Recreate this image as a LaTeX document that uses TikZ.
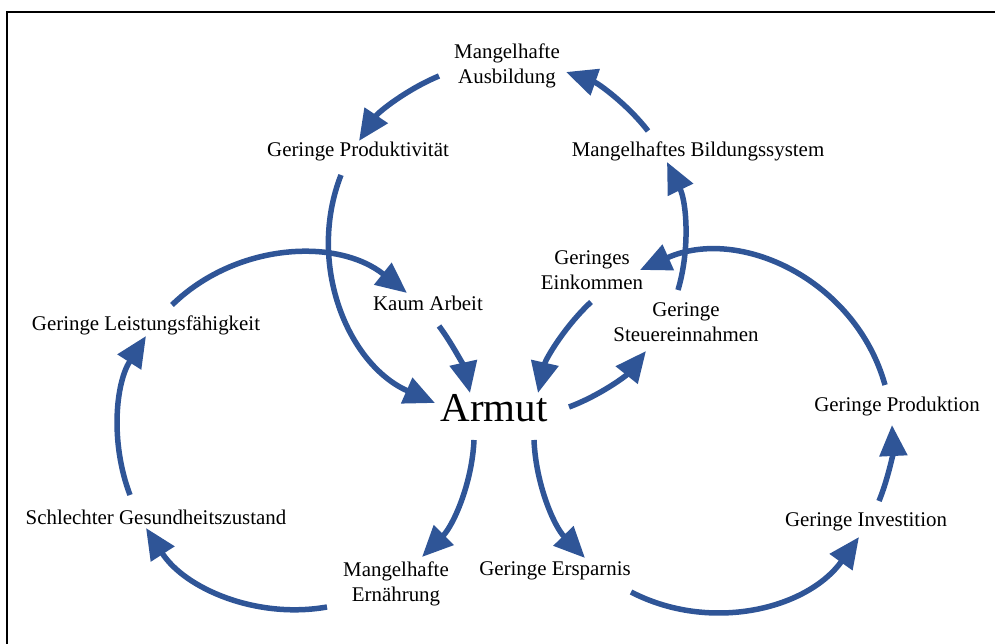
\documentclass[tikz,border=0pt]{standalone}
\usepackage{fontspec}
\setmainfont{Liberation Serif}
\usepackage{tikz}
\usetikzlibrary{arrows.meta, positioning, calc}
\definecolor{cycleblue}{RGB}{47, 85, 151}
\tikzstyle{factor} = [inner sep=0pt, outer sep=0pt, align=center, text=black, font=\fontsize{20.9}{25}\selectfont]
\tikzstyle{core} = [inner sep=0pt, outer sep=0pt, text=black, font=\fontsize{41}{46}\selectfont]
\tikzstyle{circlearrow} = [line width=5.5pt, -{Triangle[length=31pt, width=27pt]}, color=cycleblue]
\tikzstyle{frame} = [line width=2.2pt, color=black]

\begin{document}
\begin{tikzpicture}[x=1pt, y=1pt]
    \useasboundingbox (0,0) rectangle (995,644);
    % Frame
    \draw [frame] (7,-10) |- (1005,632);

    % Nodes
    \node (armut) [core] at (494,236) {Armut};
    \node (ausb) [factor] at (507,578) {Mangelhafte\\Ausbildung};
    \node (prod) [factor] at (358,492) {Geringe Produktivität};
    \node (bild) [factor] at (698,493) {Mangelhaftes Bildungssystem};
    \node (eink) [factor] at (592,374) {Geringes\\Einkommen};
    \node (arbeit) [factor] at (428,341) {Kaum Arbeit};
    \node (leist) [factor] at (146,319) {Geringe Leistungsfähigkeit};
    \node (steuer) [factor] at (686,322) {Geringe\\Steuereinnahmen};
    \node (produktion) [factor] at (897,237) {Geringe Produktion};
    \node (gesund) [factor] at (156,127) {Schlechter Gesundheitszustand};
    \node (invest) [factor] at (866,122) {Geringe Investition};
    \node (ernaehr) [factor] at (396,60) {Mangelhafte\\Ernährung};
    \node (spar) [factor] at (555,73) {Geringe Ersparnis};

    % Top cycle
    \draw [circlearrow] ([xshift=-68pt, yshift=-10pt]ausb.center) to[out=202.6, in=56.1, looseness=0.87] ([xshift=1pt, yshift=11pt]prod.center);
    \draw [circlearrow] ([xshift=-17pt, yshift=-23pt]prod.center) to[out=248.7, in=156.2, looseness=0.99] ([xshift=-59pt, yshift=5pt]armut.center);
    \draw [circlearrow] ([xshift=75pt, yshift=1pt]armut.center) to[out=20.3, in=231.3, looseness=0.86] ([xshift=-40pt, yshift=-29pt]steuer.center);
    \draw [circlearrow] ([xshift=-8pt, yshift=32pt]steuer.center) to[out=73.6, in=296, looseness=0.88] ([xshift=-31pt, yshift=-11pt]bild.center);
    \draw [circlearrow] ([xshift=-50pt, yshift=20pt]bild.center) to[out=127.6, in=340.7, looseness=0.86] ([xshift=59pt, yshift=-6pt]ausb.center);

    % Left cycle
    \draw [circlearrow] ([xshift=-20pt, yshift=-32pt]armut.center) to[out=267.4, in=45.2, looseness=0.88] ([xshift=26pt, yshift=27pt]ernaehr.center);
    \draw [circlearrow] ([xshift=-69pt, yshift=-23pt]ernaehr.center) to[out=190, in=302.7, looseness=0.93] ([xshift=-10pt, yshift=-11pt]gesund.center);
    \draw [circlearrow] ([xshift=-26pt, yshift=22pt]gesund.center) to[out=110.8, in=237.3, looseness=0.9] ([yshift=-11pt]leist.center);
    \draw [circlearrow] ([xshift=26pt, yshift=20pt]leist.center) to[out=44.3, in=141.4, looseness=0.97] ([xshift=-21pt, yshift=10pt]arbeit.center);
    \draw [circlearrow] ([xshift=11pt, yshift=-23pt]arbeit.center) to[out=306.6, in=102.5, looseness=0.86] ([xshift=-24pt, yshift=15pt]armut.center);

    % Right cycle
    \draw [circlearrow] ([xshift=40pt, yshift=-32pt]armut.center) to[out=272.3, in=134.3, looseness=0.88] ([xshift=30pt, yshift=13pt]spar.center);
    \draw [circlearrow] ([xshift=76pt, yshift=-21pt]spar.center) to[out=332.6, in=234.4, looseness=0.97] ([xshift=-7pt, yshift=-15pt]invest.center);
    \draw [circlearrow] ([xshift=13pt, yshift=21pt]invest.center) to[out=67.8, in=272.6, looseness=0.86] ([xshift=-5pt, yshift=-18pt]produktion.center);
    \draw [circlearrow] ([xshift=-12pt, yshift=22pt]produktion.center) to[out=105.6, in=24.1, looseness=1.03] ([xshift=48pt]eink.center);
    \draw [circlearrow] ([xshift=-1pt, yshift=-32pt]eink.center) to[out=222.9, in=77.2, looseness=0.86] ([xshift=44pt, yshift=15pt]armut.center);
\end{tikzpicture}
\end{document}
